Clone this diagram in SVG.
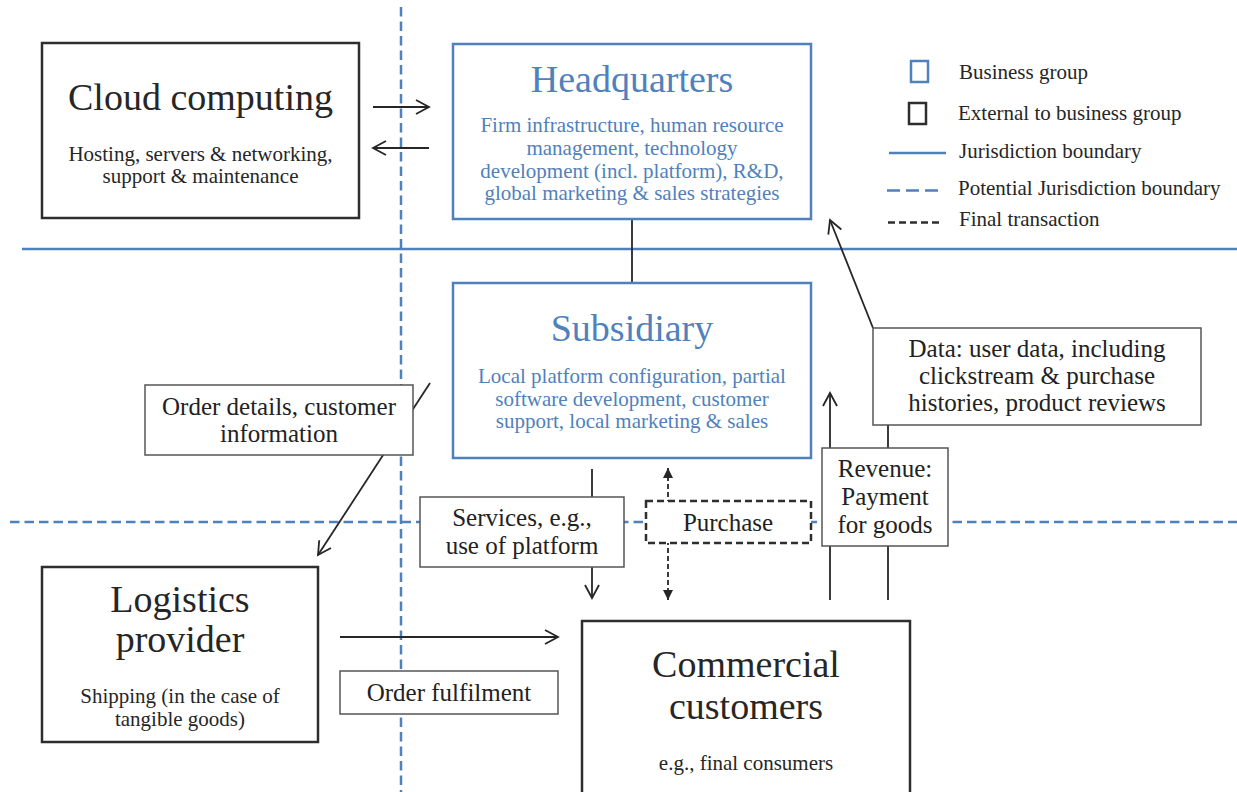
<svg xmlns="http://www.w3.org/2000/svg" width="1237" height="792" viewBox="0 0 1237 792">
<defs>
<style>
text{font-family:"Liberation Serif","DejaVu Serif",serif;fill:#262626}
.title{font-size:38px;text-anchor:middle}
.body{font-size:21px;text-anchor:middle}
.lbl{font-size:25px;text-anchor:middle;fill:#222}
.leg{font-size:21px}
.blue{fill:#4f81bd}
.bnode{fill:#fff;stroke:#4f81bd;stroke-width:2.5}
.xnode{fill:#fff;stroke:#2e2e2e;stroke-width:2.5}
.lbox{fill:#fff;stroke:#555;stroke-width:1.5}
.conn{stroke:#262626;stroke-width:1.8;fill:none}
.jb{stroke:#4f81bd;stroke-width:2.5;fill:none}
.pjb{stroke:#4f81bd;stroke-width:2.5;fill:none;stroke-dasharray:9.5,5}
</style>
<marker id="open" viewBox="0 0 16 16" refX="14" refY="8" markerWidth="16" markerHeight="16" orient="auto" markerUnits="userSpaceOnUse">
<path d="M1,1 L14,8 L1,15" fill="none" stroke="#262626" stroke-width="1.8"/>
</marker>
<marker id="fill" viewBox="0 0 10 10" refX="10" refY="5" markerWidth="10" markerHeight="10" orient="auto-start-reverse" markerUnits="userSpaceOnUse">
<path d="M0,0 L10,5 L0,10 Z" fill="#262626"/>
</marker>
</defs>
<rect width="1237" height="792" fill="#fff"/>

<g id="boundaries">
<line class="jb" x1="22" y1="249" x2="1237" y2="249"/>
<line class="pjb" x1="10" y1="522" x2="1237" y2="522"/>
<line class="pjb" x1="401" y1="7" x2="401" y2="792"/>
</g>

<g id="connectors">
<line class="conn" x1="373" y1="107" x2="429" y2="107" marker-end="url(#open)"/>
<line class="conn" x1="429" y1="148" x2="373" y2="148" marker-end="url(#open)"/>
<line class="conn" x1="632" y1="219" x2="632" y2="283"/>
<line class="conn" x1="430" y1="383" x2="318" y2="555" marker-end="url(#open)"/>
<line class="conn" x1="592" y1="469" x2="592" y2="598" marker-end="url(#open)"/>
<line class="conn" x1="668" y1="468" x2="668" y2="600" stroke-dasharray="5,3" marker-start="url(#fill)" marker-end="url(#fill)"/>
<line class="conn" x1="830" y1="600" x2="830" y2="393" marker-end="url(#open)"/>
<line class="conn" x1="888" y1="425" x2="888" y2="600"/>
<line class="conn" x1="873" y1="328" x2="830" y2="220" marker-end="url(#open)"/>
<line class="conn" x1="340" y1="637" x2="558" y2="637" marker-end="url(#open)"/>

<g id="lbl-order-details">
<rect class="lbox" x="145" y="385" width="268" height="70"/>
<text class="lbl" x="279" y="415">Order details, customer</text>
<text class="lbl" x="279" y="442">information</text>
</g>
<g id="lbl-services">
<rect class="lbox" x="420" y="497" width="204" height="70"/>
<text class="lbl" x="522" y="526">Services, e.g.,</text>
<text class="lbl" x="522" y="554">use of platform</text>
</g>
<g id="lbl-purchase">
<rect x="646" y="501" width="165" height="42" fill="#fff" stroke="#2e2e2e" stroke-width="2.5" stroke-dasharray="7,4"/>
<text class="lbl" x="728" y="531">Purchase</text>
</g>
<g id="lbl-revenue">
<rect class="lbox" x="822" y="448" width="126" height="98"/>
<text class="lbl" x="885" y="477">Revenue:</text>
<text class="lbl" x="885" y="505">Payment</text>
<text class="lbl" x="885" y="533">for goods</text>
</g>
<g id="lbl-data">
<rect class="lbox" x="873" y="328" width="328" height="97"/>
<text class="lbl" x="1037" y="357">Data: user data, including</text>
<text class="lbl" x="1037" y="384">clickstream &amp; purchase</text>
<text class="lbl" x="1037" y="411">histories, product reviews</text>
</g>
<g id="lbl-order-fulfilment">
<rect class="lbox" x="340" y="671" width="218" height="43"/>
<text class="lbl" x="449" y="701">Order fulfilment</text>
</g>
</g>

<g id="cloud-computing">
<rect class="xnode" x="42" y="43" width="317" height="175"/>
<text class="title" x="200.5" y="110">Cloud computing</text>
<text class="body" x="200.5" y="161">Hosting, servers &amp; networking,</text>
<text class="body" x="200.5" y="183">support &amp; maintenance</text>
</g>

<g id="headquarters">
<rect class="bnode" x="453" y="44" width="358" height="175"/>
<text class="title blue" x="632" y="92">Headquarters</text>
<text class="body blue" x="632" y="132">Firm infrastructure, human resource</text>
<text class="body blue" x="632" y="155">management, technology</text>
<text class="body blue" x="632" y="177.5">development (incl. platform), R&amp;D,</text>
<text class="body blue" x="632" y="200">global marketing &amp; sales strategies</text>
</g>

<g id="subsidiary">
<rect class="bnode" x="453" y="283" width="358" height="175"/>
<text class="title blue" x="632" y="341">Subsidiary</text>
<text class="body blue" x="632" y="383">Local platform configuration, partial</text>
<text class="body blue" x="632" y="405.5">software development, customer</text>
<text class="body blue" x="632" y="428">support, local marketing &amp; sales</text>
</g>

<g id="logistics-provider">
<rect class="xnode" x="42" y="567" width="276" height="175"/>
<text class="title" x="180" y="612">Logistics</text>
<text class="title" x="180" y="652">provider</text>
<text class="body" x="180" y="703">Shipping (in the case of</text>
<text class="body" x="180" y="726">tangible goods)</text>
</g>

<g id="commercial-customers">
<rect class="xnode" x="582" y="621" width="328" height="190"/>
<text class="title" x="746" y="677">Commercial</text>
<text class="title" x="746" y="719">customers</text>
<text class="body" x="746" y="770">e.g., final consumers</text>
</g>

<g id="legend">
<rect x="911" y="61" width="17" height="21" fill="#fff" stroke="#4f81bd" stroke-width="2.5"/>
<text class="leg" x="959" y="79">Business group</text>
<rect x="909" y="103" width="17" height="21" fill="#fff" stroke="#2e2e2e" stroke-width="2.5"/>
<text class="leg" x="958" y="120">External to business group</text>
<line class="jb" x1="889" y1="153" x2="946" y2="153"/>
<text class="leg" x="959" y="158">Jurisdiction boundary</text>
<line x1="887" y1="190.5" x2="939" y2="190.5" stroke="#4f81bd" stroke-width="2.5" stroke-dasharray="13,6"/>
<text class="leg" x="958" y="195">Potential Jurisdiction boundary</text>
<line x1="888" y1="222.5" x2="942" y2="222.5" stroke="#2e2e2e" stroke-width="2.5" stroke-dasharray="7,4"/>
<text class="leg" x="959" y="226">Final transaction</text>
</g>
</svg>
